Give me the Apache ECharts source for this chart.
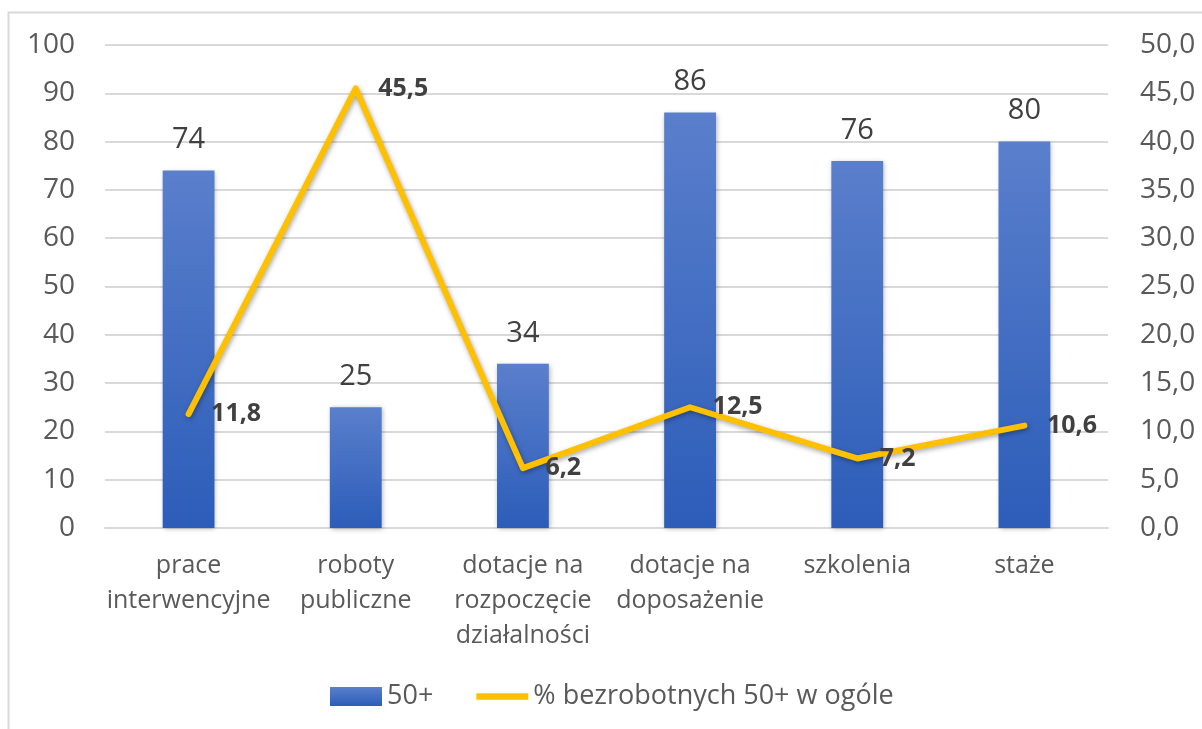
<!DOCTYPE html>
<html>
<head>
<meta charset="utf-8">
<script src="https://cdn.jsdelivr.net/npm/echarts@6/dist/echarts.min.js"></script>
<style>
  html, body { margin: 0; padding: 0; background: #fff; }
  #chart { width: 1202px; height: 729px; }
</style>
</head>
<body>
<div id="chart"></div>
<script>
// categories (with the line breaks used in the picture)
const categories = [
  'prace\ninterwencyjne',
  'roboty\npubliczne',
  'dotacje na\nrozpoczęcie\ndziałalności',
  'dotacje na\ndoposażenie',
  'szkolenia',
  'staże'
];
const barName = '50+';
const lineName = '% bezrobotnych 50+ w ogóle';
const barValues = [74, 25, 34, 86, 76, 80];
const lineValues = [11.8, 45.5, 6.2, 12.5, 7.2, 10.6];

const fontFam = '"Open Sans", "Liberation Sans", sans-serif';
const gray = '#595959';

const chart = echarts.init(document.getElementById('chart'));
chart.setOption({
  animation: false,
  textStyle: { fontFamily: fontFam },
  graphic: [{
    type: 'rect',
    shape: { x: 8.5, y: 12.5, width: 1220, height: 740 },
    style: { fill: 'none', stroke: '#D9D9D9', lineWidth: 2 },
    silent: true
  }],
  grid: { left: 105, right: 94, top: 45, bottom: 201 },
  legend: {
    top: 678,
    left: 325,
    itemGap: 43,
    itemWidth: 52,
    itemHeight: 19,
    textStyle: { color: gray, fontSize: 27, fontFamily: fontFam },
    data: [
      { name: barName, icon: 'rect' },
      { name: lineName, icon: 'path://M0,0 L57,0 L57,7 L0,7 Z', itemStyle: { color: '#FFC000' } }
    ]
  },
  xAxis: {
    type: 'category',
    data: categories,
    axisLine: { lineStyle: { color: '#D9D9D9', width: 2 } },
    axisTick: { show: false },
    axisLabel: { color: gray, fontSize: 25, lineHeight: 35, margin: 20, interval: 0 }
  },
  yAxis: [
    {
      type: 'value', min: 0, max: 100, interval: 10,
      axisLine: { show: false }, axisTick: { show: false },
      splitLine: { lineStyle: { color: '#D9D9D9', width: 2 } },
      axisLabel: { color: gray, fontSize: 28, margin: 30 }
    },
    {
      type: 'value', min: 0, max: 50, interval: 5,
      axisLine: { show: false }, axisTick: { show: false },
      splitLine: { show: false },
      axisLabel: {
        color: gray, fontSize: 28, margin: 32,
        formatter: v => v.toFixed(1).replace('.', ',')
      }
    }
  ],
  series: [
    {
      name: barName,
      type: 'bar',
      data: barValues,
      barWidth: '31%',
      itemStyle: {
        color: new echarts.graphic.LinearGradient(0, 0, 0, 1, [
          { offset: 0, color: '#5A7FCC' },
          { offset: 1, color: '#2C5DB9' }
        ]),
        shadowColor: 'rgba(0,0,0,0.3)',
        shadowBlur: 5,
        shadowOffsetX: 1,
        shadowOffsetY: 1
      },
      label: {
        show: true, position: 'top', distance: 16,
        color: '#404040', fontSize: 29
      },
      z: 2
    },
    {
      name: lineName,
      type: 'line',
      yAxisIndex: 1,
      data: lineValues,
      symbol: 'circle',
      symbolSize: 1,
      showSymbol: true,
      lineStyle: {
        color: '#FFC000', width: 6, cap: 'round', join: 'round',
        shadowColor: 'rgba(0,0,0,0.35)', shadowBlur: 5, shadowOffsetX: 1, shadowOffsetY: 2
      },
      itemStyle: { color: '#FFC000' },
      label: {
        show: true, position: 'right', distance: 22,
        color: '#404040', fontSize: 25, fontWeight: 'bold',
        formatter: p => p.value.toFixed(1).replace('.', ',')
      },
      z: 3
    }
  ]
});
</script>
</body>
</html>
